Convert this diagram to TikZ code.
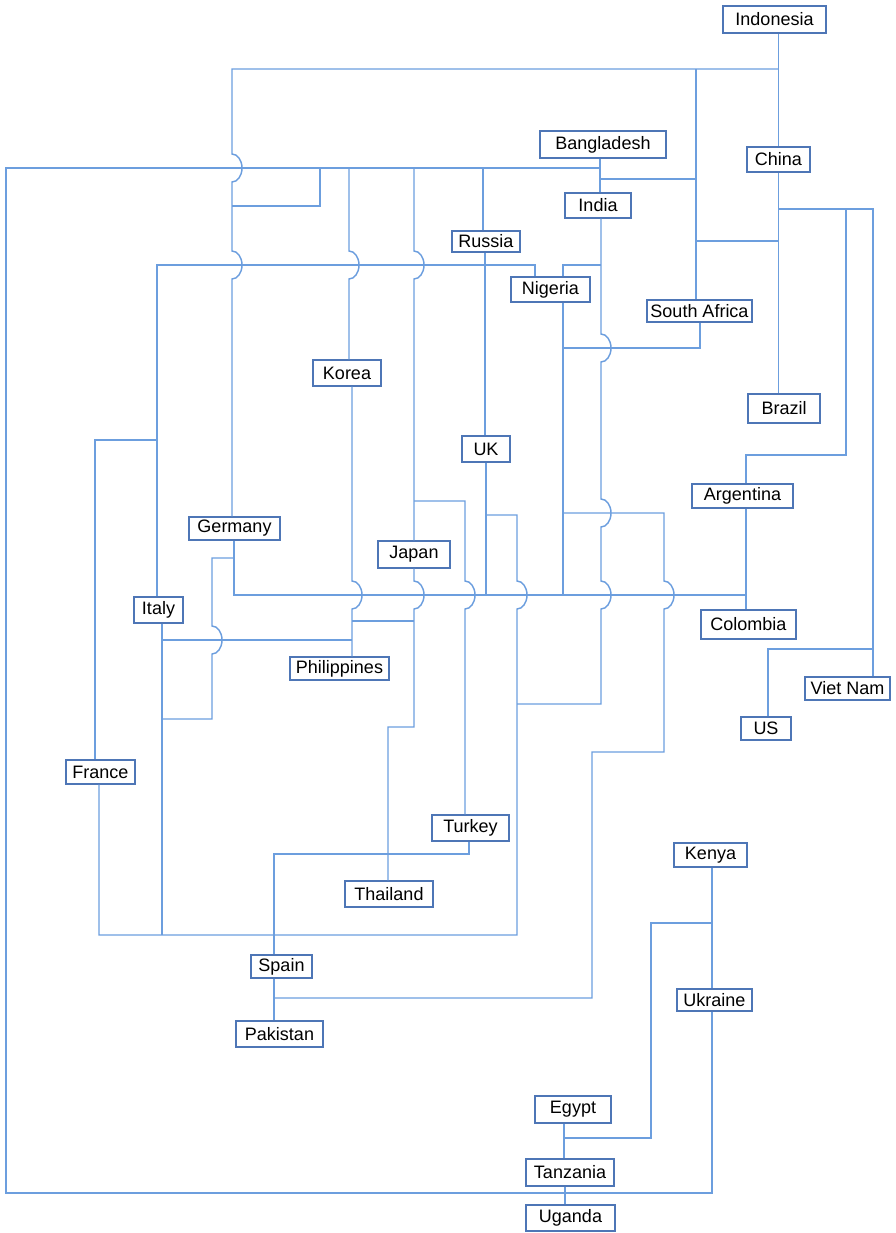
\documentclass[tikz,border=0pt]{standalone}
\usepackage{fontspec}
\setmainfont{Liberation Sans}
\definecolor{lineblue}{RGB}{108,158,222}
\definecolor{boxblue}{RGB}{78,118,182}
\tikzset{
 box/.style={draw=boxblue, line width=1.1pt, fill=white, inner sep=0pt, font=\fontsize{13.5pt}{16pt}\selectfont, text=black},
 wh/.style 2 args={minimum width=#1*0.75pt, minimum height=#2*0.75pt},
 conn/.style={draw=lineblue, line width=1.1pt},
 hop/.style={insert path={arc[start angle=90,end angle=-90,x radius=7.5pt,y radius=10.5pt]}}
}
\begin{document}
\begin{tikzpicture}[x=0.75pt,y=-0.75pt]
\useasboundingbox (0,0) rectangle (896,1233);
% nodes
\node[box,wh={103}{27}] (indo) at (774.5,19.5) {Indonesia};
\node[box,wh={126}{27}] (bang) at (603,144.5) {Bangladesh};
\node[box,wh={63}{25}] (china) at (778.5,159.5) {China};
\node[box,wh={66}{25}] (india) at (598,205.5) {India};
\node[box,wh={68}{21}] (russia) at (486,241.5) {Russia};
\node[box,wh={79}{25}] (nigeria) at (550.5,289.5) {Nigeria};
\node[box,wh={105}{22}] (safrica) at (699.5,311) {South Africa};
\node[box,wh={68}{26}] (korea) at (347,373) {Korea};
\node[box,wh={72}{29}] (brazil) at (784,408.5) {Brazil};
\node[box,wh={48}{26}] (uk) at (486,449) {UK};
\node[box,wh={101}{24}] (arg) at (742.5,496) {Argentina};
\node[box,wh={91}{23}] (germany) at (234.5,528.5) {Germany};
\node[box,wh={72}{27}] (japan) at (414,554.5) {Japan};
\node[box,wh={49}{26}] (italy) at (158.5,610) {Italy};
\node[box,wh={95}{29}] (colombia) at (748.5,624.5) {Colombia};
\node[box,wh={99}{23}] (phil) at (339.5,668.5) {Philippines};
\node[box,wh={85}{23}] (vietnam) at (847.5,688.5) {Viet Nam};
\node[box,wh={50}{23}] (us) at (766,728.5) {US};
\node[box,wh={69}{24}] (france) at (100.5,772) {France};
\node[box,wh={77}{26}] (turkey) at (470.5,828) {Turkey};
\node[box,wh={73}{24}] (kenya) at (710.5,855) {Kenya};
\node[box,wh={88}{26}] (thailand) at (389,894) {Thailand};
\node[box,wh={61}{23}] (spain) at (281.5,966.5) {Spain};
\node[box,wh={87}{26}] (pakistan) at (279.5,1034) {Pakistan};
\node[box,wh={75}{22}] (ukraine) at (714.5,1000) {Ukraine};
\node[box,wh={76}{27}] (egypt) at (573,1109.5) {Egypt};
\node[box,wh={88}{27}] (tanzania) at (570,1172.5) {Tanzania};
\node[box,wh={89}{26}] (uganda) at (570.5,1218) {Uganda};
% junction coordinates
\coordinate (jTopR) at (778,69);
\coordinate (jTopSA) at (696,69);
\coordinate (jSA1) at (696,241);
\coordinate (jCh1) at (778,241);
\coordinate (jCh2) at (778,209);
\coordinate (jCh3) at (846,209);
\coordinate (jVN) at (873,649);
\coordinate (jB1) at (600,168);
\coordinate (jB2) at (600,179);
\coordinate (jSA2) at (696,179);
\coordinate (jL1) at (320,168);
\coordinate (jG1) at (232,206);
\coordinate (jK1) at (349,168);
\coordinate (jJ1) at (414,168);
\coordinate (jR1) at (483,168);
\coordinate (jUK1) at (486,515);
\coordinate (jUK2) at (486,595);
\coordinate (jJ2) at (414,501);
\coordinate (jK2) at (352,621);
\coordinate (jJ3) at (414,621);
\coordinate (jI1) at (157,440);
\coordinate (jIn1) at (601,265);
\coordinate (jIn2) at (517,704);
\coordinate (jN1) at (563,595);
\coordinate (jN2) at (563,348);
\coordinate (jN3) at (563,513);
\coordinate (jSp1) at (274,998);
\coordinate (jG2) at (234,558);
\coordinate (jIt1) at (162,719);
\coordinate (jIt2) at (162,935);
\coordinate (jIt3) at (162,640);
\coordinate (jPh1) at (352,640);
\coordinate (jAC) at (746,595);
\coordinate (jKe1) at (712,923);
\coordinate (jEg1) at (564,1138);
% connectors
\draw[conn] (indo.south -| china.north) -- (china.north);
\draw[conn] (jTopR) -- (232,69) -- (232,154) [hop] -- (232,251) [hop] -- (232,0 |- germany.north);
\draw[conn] (jTopSA) -- (696,0 |- safrica.north);
\draw[conn] (jSA1) -- (jCh1);
\draw[conn] (china.south) -- (china.south |- brazil.north);
\draw[conn] (jCh2) -- (873,209) -- (873,0 |- vietnam.north);
\draw[conn] (jCh3) -- (846,455) -- (746,455) -- (746,0 |- arg.north);
\draw[conn] (746,0 |- arg.south) -- (746,0 |- colombia.north);
\draw[conn] (jVN) -- (768,649) -- (768,0 |- us.north);
\draw[conn] (600,0 |- bang.south) -- (600,0 |- india.north);
\draw[conn] (jB2) -- (jSA2);
\draw[conn] (712,0 |- ukraine.south) -- (712,1193) -- (6,1193) -- (6,168) -- (jB1);
\draw[conn] (jL1) -- (320,206) -- (jG1);
\draw[conn] (jK1) -- (349,251) [hop] -- (349,0 |- korea.north);
\draw[conn] (jJ1) -- (414,251) [hop] -- (414,0 |- japan.north);
\draw[conn] (jR1) -- (483,0 |- russia.north);
\draw[conn] (485,0 |- russia.south) -- (485,0 |- uk.north);
\draw[conn] (486,0 |- uk.south) -- (jUK2);
\draw[conn] (jUK1) -- (517,515) -- (517,581) [hop] -- (517,935) -- (99,935) -- (99,0 |- france.south);
\draw[conn] (352,0 |- korea.south) -- (352,581) [hop] -- (352,0 |- phil.north);
\draw[conn] (414,0 |- japan.south) -- (414,581) [hop] -- (414,727) -- (388,727) -- (388,0 |- thailand.north);
\draw[conn] (jJ2) -- (465,501) -- (465,581) [hop] -- (465,0 |- turkey.north);
\draw[conn] (jK2) -- (jJ3);
\draw[conn] (157,0 |- italy.north) -- (157,265) -- (535,265) -- (535,0 |- nigeria.north);
\draw[conn] (jI1) -- (95,440) -- (95,0 |- france.north);
\draw[conn] (601,0 |- india.south) -- (601,334) [hop] -- (601,499) [hop] -- (601,581) [hop] -- (601,704) -- (jIn2);
\draw[conn] (jIn1) -- (563,265) -- (563,0 |- nigeria.north);
\draw[conn] (563,0 |- nigeria.south) -- (jN1);
\draw[conn] (700,0 |- safrica.south) -- (700,348) -- (jN2);
\draw[conn] (jN3) -- (664,513) -- (664,581) [hop] -- (664,752) -- (592,752) -- (592,998) -- (jSp1);
\draw[conn] (234,0 |- germany.south) -- (234,595) -- (jAC);
\draw[conn] (jG2) -- (212,558) -- (212,626) [hop] -- (212,719) -- (jIt1);
\draw[conn] (162,0 |- italy.south) -- (jIt2);
\draw[conn] (jIt3) -- (jPh1);
\draw[conn] (469,0 |- turkey.south) -- (469,854) -- (274,854) -- (274,0 |- spain.north);
\draw[conn] (274,0 |- spain.south) -- (274,0 |- pakistan.north);
\draw[conn] (712,0 |- kenya.south) -- (712,0 |- ukraine.north);
\draw[conn] (jKe1) -- (651,923) -- (651,1138) -- (jEg1);
\draw[conn] (564,0 |- egypt.south) -- (564,0 |- tanzania.north);
\draw[conn] (565,0 |- tanzania.south) -- (565,0 |- uganda.north);
\end{tikzpicture}
\end{document}
